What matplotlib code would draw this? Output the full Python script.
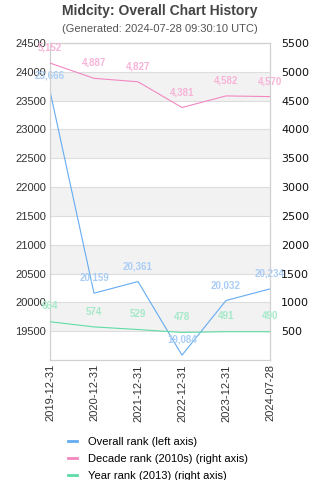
import matplotlib
matplotlib.use("Agg")
import matplotlib.pyplot as plt
from matplotlib.lines import Line2D

dates = ["2019-12-31", "2020-12-31", "2021-12-31", "2022-12-31", "2023-12-31", "2024-07-28"]
overall = [23666, 20159, 20361, 19084, 20032, 20234]
decade = [5152, 4887, 4827, 4381, 4582, 4570]
year = [664, 574, 529, 478, 491, 490]

left_ticks = [19500, 20000, 20500, 21000, 21500, 22000, 22500, 23000, 23500, 24000, 24500]
right_ticks = [500, 1000, 1500, 2000, 2500, 3000, 3500, 4000, 4500, 5000, 5500]

c_blue, c_pink, c_green = "#65abf2", "#f287c0", "#5fdca6"
l_blue, l_pink, l_green = "#a9cdf5", "#f8b4d8", "#a6e9c9"

plt.rcParams['font.family'] = ['Liberation Sans', 'DejaVu Sans']
fig = plt.figure(figsize=(3.2, 4.8), dpi=100)
ax = fig.add_axes([50/320, 1-360/480, 220/320, 317/480])
ax2 = ax.twinx()

x = list(range(len(dates)))
ax.set_xlim(0, len(dates)-1)
ax.set_ylim(19000, 24500)
ax2.set_ylim(0, 5500)

# bands
for lo in [19500, 20500, 21500, 22500, 23500]:
    ax.axhspan(lo, lo+500, color="#f2f2f2", zorder=0, lw=0)
for t in left_ticks:
    ax.axhline(t, color="#dddddd", lw=0.8, zorder=0.5)

ax.plot(x, overall, color=c_blue, lw=0.8, zorder=3)
ax2.plot(x, decade, color=c_pink, lw=0.8, zorder=3)
ax2.plot(x, year, color=c_green, lw=0.8, zorder=3)

lab_kw = dict(xytext=(0, 7.5), textcoords="offset points", ha="center", va="bottom",
              fontsize=7, fontweight="bold")
for xi, v in zip(x, overall):
    ax.annotate(f"{v:,}", (xi, v), color=l_blue, **lab_kw)
for xi, v in zip(x, decade):
    ax2.annotate(f"{v:,}", (xi, v), color=l_pink, **lab_kw)
for xi, v in zip(x, year):
    ax2.annotate(f"{v:,}", (xi, v), color=l_green, **lab_kw)

ax.set_yticks(left_ticks)
ax.set_yticklabels([str(t) for t in left_ticks], fontsize=8, color="#333333")
ax2.set_yticks(right_ticks)
ax2.set_yticklabels([str(t) for t in right_ticks], fontsize=8, color="#111111", family="DejaVu Sans")
ax.set_xticks(x)
ax.set_xticklabels(dates, rotation=90, fontsize=8, color="#333333")
ax.tick_params(length=0, pad=3)
ax2.tick_params(length=0, pad=8)
for a in (ax, ax2):
    for s in a.spines.values():
        s.set_color("#d0d0d0")
        s.set_linewidth(0.8)

fig.text(0.5, 1-11/480, "Midcity: Overall Chart History", ha="center", va="center",
         fontsize=10, fontweight="bold", color="#444444")
fig.text(0.5, 1-29/480, "(Generated: 2024-07-28 09:30:10 UTC)", ha="center", va="center",
         fontsize=8, color="#555555")

handles = [Line2D([], [], color=c_blue, lw=2), Line2D([], [], color=c_pink, lw=2),
           Line2D([], [], color=c_green, lw=2)]
labels = ["Overall rank (left axis)", "Decade rank (2010s) (right axis)", "Year rank (2013) (right axis)"]
fig.legend(handles, labels, loc="upper left", bbox_to_anchor=(68/320, 1-437/480),
           frameon=False, fontsize=8, handlelength=0.8, handletextpad=1.0,
           labelspacing=0.62, borderaxespad=0, borderpad=0)

fig.savefig("out.png", dpi=100)
